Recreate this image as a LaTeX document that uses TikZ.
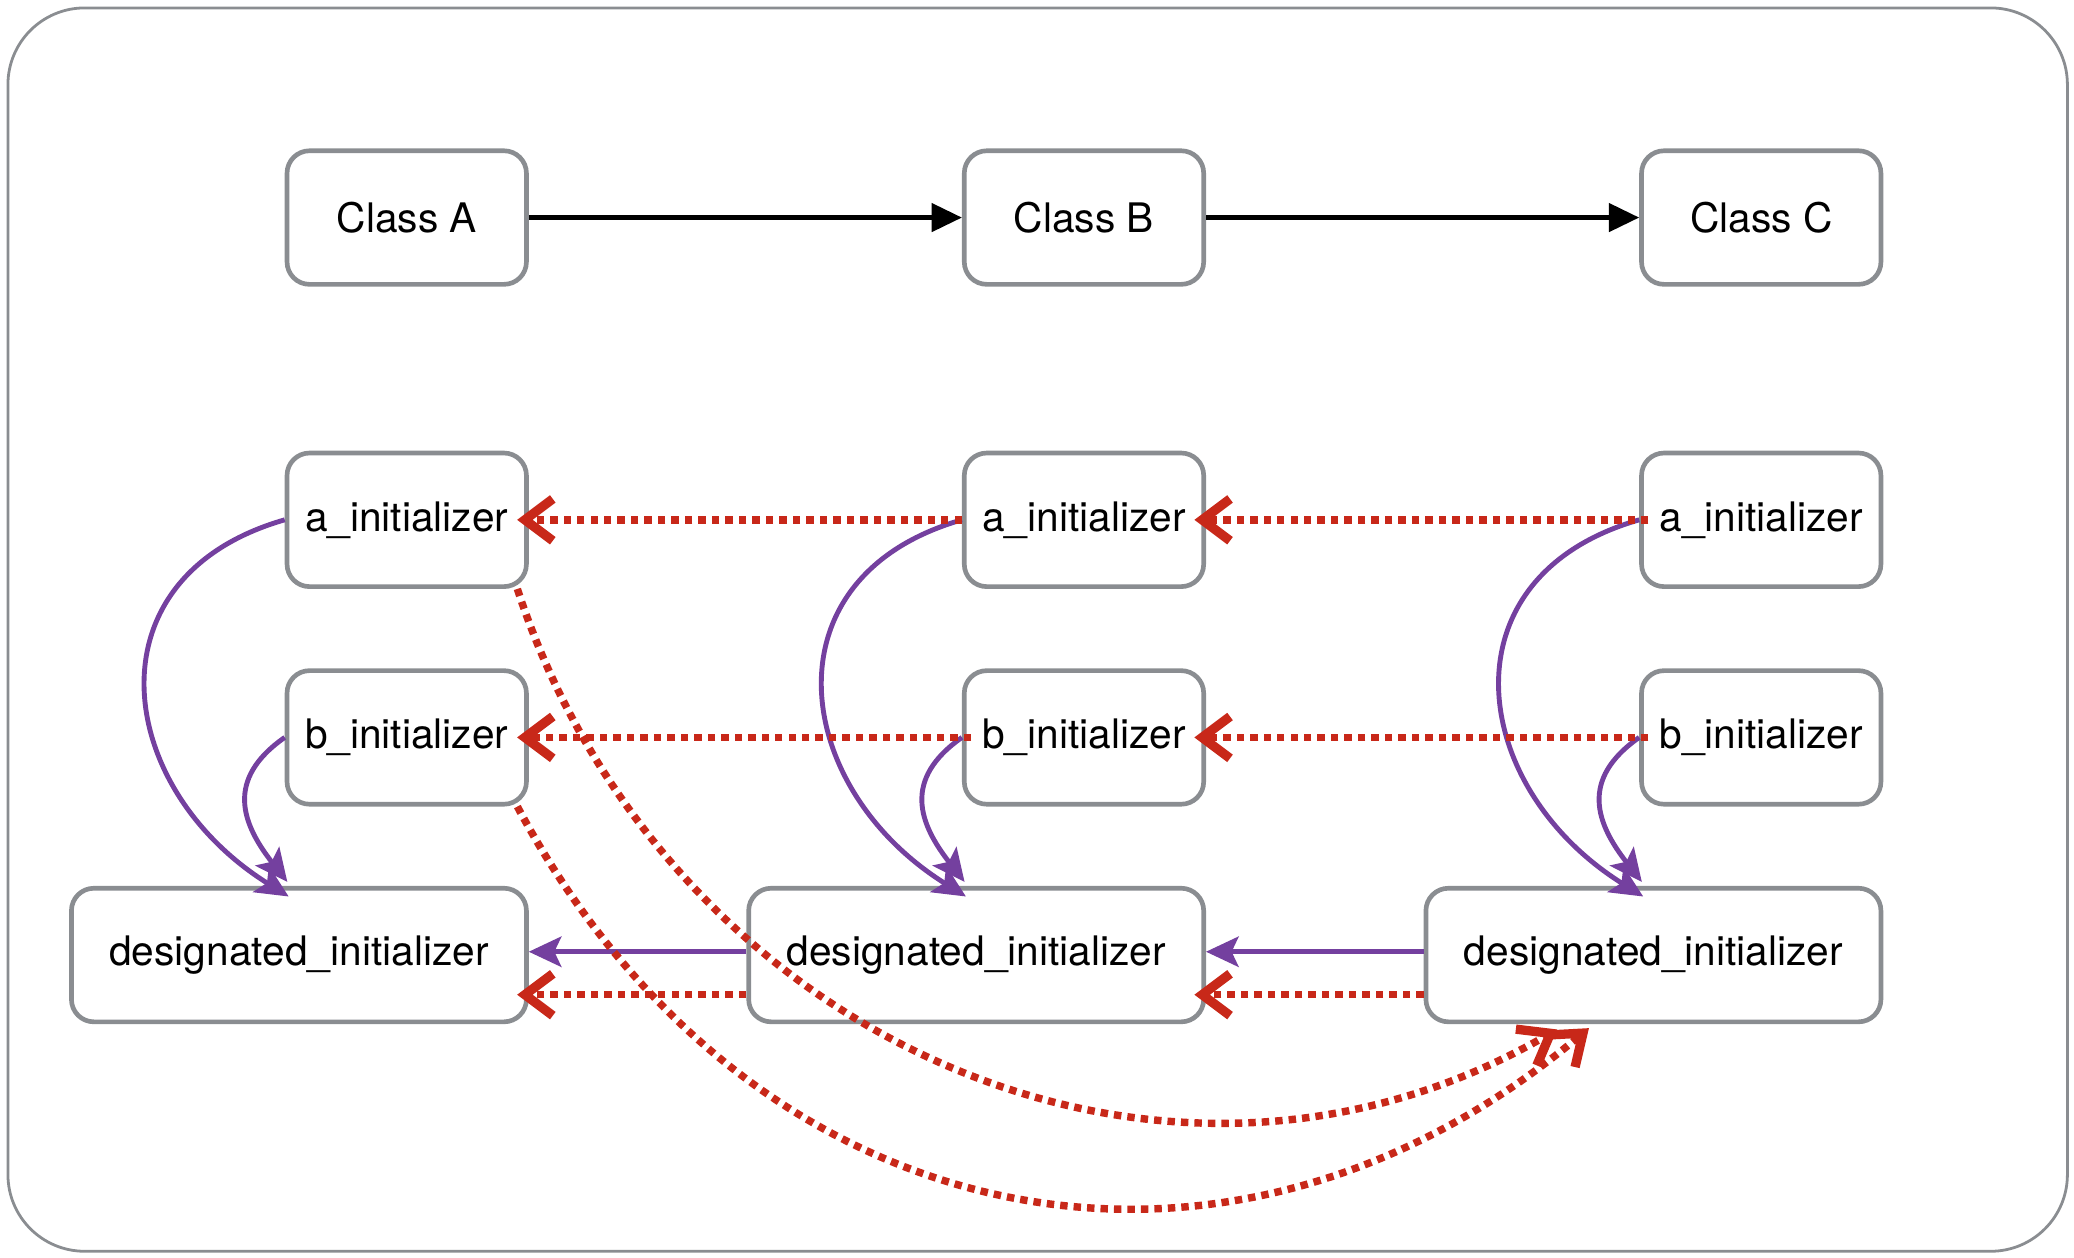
\documentclass[tikz,border=0pt]{standalone}
\usepackage{fontspec}
\setmainfont{TeX Gyre Heros}
\usepackage{xcolor}
\usepackage{tikz}
\usetikzlibrary{positioning,arrows.meta,calc}
\definecolor{boxgray}{HTML}{8A8D91}
\definecolor{callprp}{HTML}{74409F}
\definecolor{superred}{HTML}{C82819}
\tikzset{
  blk/.style    ={draw=boxgray, line width=1pt, rectangle, rounded corners=0.17cm, fill=white, minimum width=1.81cm, minimum height=1.01cm, align=center},
  dsg/.style    ={blk, minimum width=3.44cm},
  arr/.style    ={-{Triangle[length=6.5pt,width=6pt]}, line width=1pt, black},
  prparr/.style ={-{Stealth[length=7pt,width=6.5pt,inset=1.5pt]}, line width=1.05pt, callprp},
  redarr/.style ={-{Straight Barb[length=6pt,width=9pt,line width=2pt]}, line width=1.6pt, dash pattern=on 1.6pt off 1.3pt, superred},
  into/.style   ={shorten >=-2.5pt},
}
\begin{document}
\begin{tikzpicture}[font=\fontsize{8.75}{10}\selectfont]
  \useasboundingbox (0,0) rectangle (15.68,-9.51);
  \draw[boxgray, line width=0.6pt, rounded corners=0.58cm] (0.06,-0.06) rectangle (15.63,-9.46);

  % classes
  \node[blk] (ca) at (3.075,-1.645) {Class A};
  \node[blk, right=3.275cm of ca] (cb) {Class B};
  \node[blk, right=3.275cm of cb] (cc) {Class C};

  % initializers
  \node[blk, below=1.24cm of ca] (aa) {a\_initializer};
  \node[blk, below=1.24cm of cb] (ab) {a\_initializer};
  \node[blk, below=1.24cm of cc] (ac) {a\_initializer};
  \node[blk, below=0.6cm of aa] (ba) {b\_initializer};
  \node[blk, below=0.6cm of ab] (bb) {b\_initializer};
  \node[blk, below=0.6cm of ac] (bc) {b\_initializer};
  \node[dsg, below=0.6cm of ba.south east, anchor=north east] (da) {designated\_initializer};
  \node[dsg, below=0.6cm of bb.south east, anchor=north east] (db) {designated\_initializer};
  \node[dsg, below=0.6cm of bc.south east, anchor=north east] (dc) {designated\_initializer};

  \draw[arr] (ca) -- (cb);
  \draw[arr] (cb) -- (cc);

  % calls inside a class
  \draw[prparr] (aa.west) to[out=196, in=148, looseness=1.4] ($(da.north -| aa.west)+(0.03,-0.08)$);
  \draw[prparr] (ba.west) to[out=215, in=128, looseness=1.3] ($(da.north -| ba.west)+(0.02,0.03)$);
  \draw[prparr] (ab.west) to[out=196, in=148, looseness=1.4] ($(db.north -| ab.west)+(0.03,-0.08)$);
  \draw[prparr] (bb.west) to[out=215, in=128, looseness=1.3] ($(db.north -| bb.west)+(0.02,0.03)$);
  \draw[prparr] (ac.west) to[out=196, in=148, looseness=1.4] ($(dc.north -| ac.west)+(0.03,-0.08)$);
  \draw[prparr] (bc.west) to[out=215, in=128, looseness=1.3] ($(dc.north -| bc.west)+(0.02,0.03)$);
  \draw[prparr] ([yshift=0.025cm]db.west) -- ([yshift=0.025cm]da.east);
  \draw[prparr] ([yshift=0.025cm]dc.west) -- ([yshift=0.025cm]db.east);

  % calls to super
  \draw[redarr, into] (ab.west) -- (aa.east);
  \draw[redarr, into] ([xshift=0.07cm]ac.west) -- (ab.east);
  \draw[redarr, into] ([xshift=0.07cm]bb.west) -- (ba.east);
  \draw[redarr, into] ([xshift=0.07cm]bc.west) -- (bb.east);
  \draw[redarr, into] ([yshift=-0.3cm]db.west) -- ([yshift=-0.3cm]da.east);
  \draw[redarr, into] ([yshift=-0.3cm]dc.west) -- ([yshift=-0.3cm]db.east);
  \draw[redarr] (aa.-32) to[out=-72, in=210, looseness=1.05] ($(dc.south west)+(1.01,-0.04)$);
  \draw[redarr] (ba.-32) to[out=-62, in=220, looseness=1.13] ($(dc.south west)+(1.25,-0.03)$);
\end{tikzpicture}
\end{document}
